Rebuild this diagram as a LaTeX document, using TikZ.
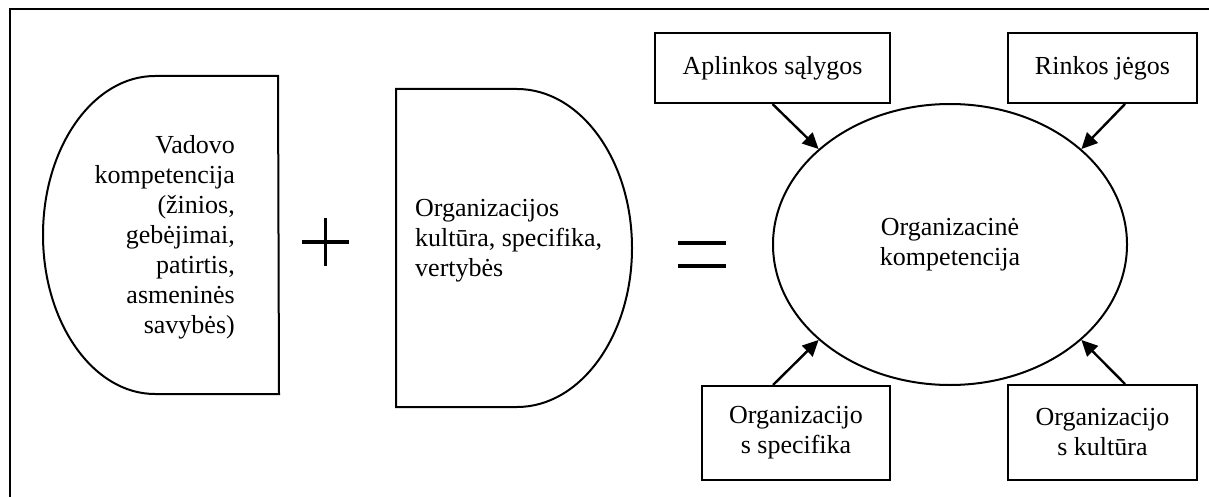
\documentclass[tikz,border=0pt]{standalone}
\usepackage{fontspec}
\setmainfont{Liberation Serif}
\usetikzlibrary{arrows.meta,shapes.geometric}
\tikzset{
  txt/.style={font=\fontsize{26}{30}\selectfont, inner sep=0pt},
  shapeline/.style={line width=2pt},
  boxnode/.style={draw, line width=2pt, rectangle, inner sep=0pt, align=center,
    font=\fontsize{26}{30}\selectfont},
  arr/.style={line width=2.4pt, -{Triangle[length=16pt,width=15pt]}},
  sign/.style={line width=3.6pt}
}
\begin{document}
\begin{tikzpicture}[x=1pt,y=-1pt]
\useasboundingbox (0,0) rectangle (1209,497);
% outer frame (top and left edges)
\draw[line width=2.4pt] (10,497) -- (10,9) -- (1209,9);

% left rounded block
\draw[shapeline] (278,76) -- (155,76)
  arc[start angle=90, end angle=270, x radius=112pt, y radius=159pt]
  -- (279,394) -- cycle;
\node[txt, align=right, anchor=east] (vad) at (235,237)
  {Vadovo\\kompetencija\\(žinios,\\gebėjimai,\\patirtis,\\asmeninės\\savybės)};

% plus sign
\draw[sign] (302,242) -- (349,242) (325.5,218) -- (325.5,266);

% right rounded block
\draw[shapeline] (396,89) -- (517,89)
  arc[start angle=90, end angle=-90, x radius=115pt, y radius=159pt]
  -- (396,407) -- cycle;
\node[txt, align=left, anchor=west] (org) at (415,241)
  {Organizacijos\\kultūra, specifika,\\vertybės};

% equals sign
\draw[sign] (678,243) -- (726,243) (678,266) -- (726,266);

% central ellipse
\node[ellipse, draw, line width=2pt, minimum width=354pt, minimum height=281pt,
  inner sep=0pt, align=center, font=\fontsize{26}{30}\selectfont] (ell) at (950,244.5)
  {Organizacinė\\kompetencija};

% surrounding factor boxes
\node[boxnode, minimum width=235pt, minimum height=70pt] (apl) at (772.5,68) {Aplinkos sąlygos};
\node[boxnode, minimum width=189pt, minimum height=70pt] (rnk) at (1102.5,68) {Rinkos jėgos};
\node[boxnode, minimum width=188pt, minimum height=94pt] (spc) at (796,433) {Organizacijo\\s specifika};
\node[boxnode, minimum width=189pt, minimum height=95pt] (klt) at (1102.5,432.5) {Organizacijo\\s kultūra};

% arrows into the ellipse
\draw[arr] (apl.south) -- (ell.144);
\draw[arr] ([xshift=22.5pt]rnk.south) -- (ell.36);
\draw[arr] ([xshift=-23pt]spc.north) -- (ell.216);
\draw[arr] ([xshift=22.5pt]klt.north) -- (ell.324);
\end{tikzpicture}
\end{document}
